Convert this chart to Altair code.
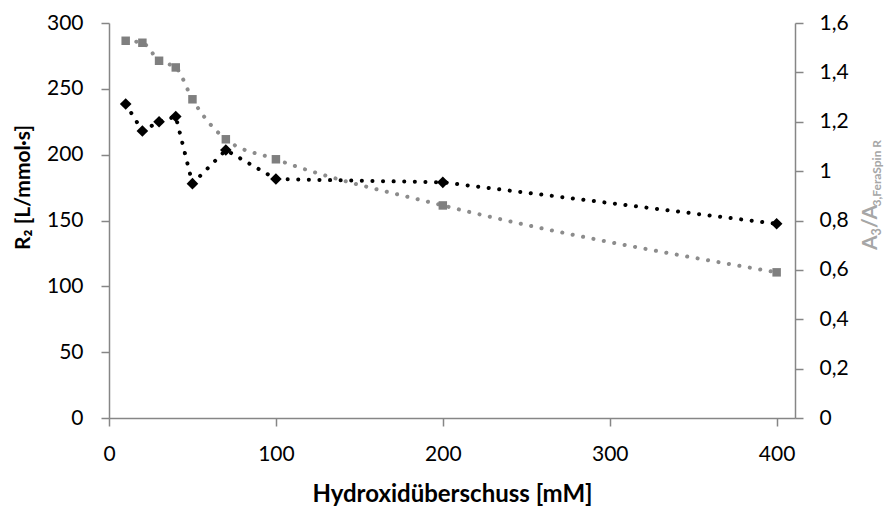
import altair as alt
import pandas as pd

# ---- data ----
hydroxid_mm = [10, 20, 30, 40, 50, 70, 100, 200, 400]
r2_values = [238.5, 218.0, 225.0, 229.0, 178.0, 203.5, 181.5, 179.0, 147.5]
ratio_values = [1.528, 1.520, 1.447, 1.420, 1.291, 1.129, 1.048, 0.861, 0.590]

x_ticks = [0, 100, 200, 300, 400]
r2_ticks = [0, 50, 100, 150, 200, 250, 300]
ratio_ticks = [0, 0.2, 0.4, 0.6, 0.8, 1, 1.2, 1.4, 1.6]

df = pd.DataFrame({"x": hydroxid_mm, "r2": r2_values, "ratio": ratio_values})
one = pd.DataFrame({"k": [0]})

FONT = "Lato"
AX_GREY = "#868686"
W, H = 686, 395

common_axis = dict(
    grid=False, domainColor=AX_GREY, tickColor=AX_GREY, domainWidth=1.5,
    tickWidth=1.5, tickSize=8, labelFontSize=21, labelColor="#000000",
    labelFont=FONT,
)

xenc = alt.X(
    "x:Q",
    scale=alt.Scale(domain=[0, 411], nice=False, zero=False),
    axis=alt.Axis(
        values=x_ticks, title="Hydroxidüberschuss [mM]", labelPadding=17,
        titleFontSize=24, titleFontWeight="bold", titleFont=FONT,
        titleColor="#000000", titleBaseline="alphabetic", titleY=83,
        labelFlush=False, **common_axis,
    ),
)

y_left = alt.Y(
    "r2:Q",
    scale=alt.Scale(domain=[0, 300], nice=False, zero=True),
    axis=alt.Axis(
        orient="left", values=r2_ticks, title="R₂ [L/mmol·s]", labelPadding=18,
        titleFontSize=21, titleFontWeight="bold", titleFont=FONT,
        titleColor="#000000", titleAngle=270, titleBaseline="alphabetic",
        titleAlign="center", titleX=-80, titleY=164, **common_axis,
    ),
)

y_right = alt.Y(
    "ratio:Q",
    scale=alt.Scale(domain=[0, 1.6], nice=False, zero=True),
    axis=alt.Axis(
        orient="right", values=ratio_ticks, title=None, labelPadding=16,
        labelExpr="replace(format(datum.value, '~g'), '.', ',')",
        **common_axis,
    ),
)

base = alt.Chart(df)

grey_line = base.mark_line(
    color="#8c8c8c", strokeWidth=4, strokeDash=[0.1, 10.5], strokeCap="round",
    interpolate="monotone",
).encode(x=xenc, y=y_right)
grey_pts = base.mark_point(
    shape="square", filled=True, color="#7f7f7f", size=72, opacity=1,
).encode(x=xenc, y=y_right)

black_line = base.mark_line(
    color="#000000", strokeWidth=4, strokeDash=[0.1, 10.5], strokeCap="round",
).encode(x=xenc, y=y_left)
black_pts = base.mark_point(
    shape="diamond", filled=True, color="#000000", size=135, opacity=1,
).encode(x=xenc, y=y_left)

grey_layer = alt.layer(grey_line, grey_pts)
black_layer = alt.layer(black_line, black_pts)

# right axis title: A3/A3,FeraSpin R (with subscripts), drawn as text pieces
TCOL = "#a6a6a6"
def piece(txt, size, xpx, ypx):
    return alt.Chart(one).mark_text(
        text=txt, angle=270, align="left", baseline="alphabetic",
        fontSize=size, fontWeight="bold", font=FONT, color=TCOL,
    ).encode(x=alt.value(xpx), y=alt.value(ypx))

ox, oy = 109, 23
t1 = piece("A", 21, 877 - ox, 250 - oy)
t2 = piece("3", 12.5, 881 - ox, 235.5 - oy)
t3 = piece("/A", 21, 877 - ox, 228 - oy)
t4 = piece("3,FeraSpin R", 12, 881 - ox, 206.5 - oy)

chart = (
    alt.layer(grey_layer, black_layer, t1, t2, t3, t4)
    .resolve_scale(y="independent")
    .properties(
        width=W, height=H,
        autosize=alt.AutoSizeParams(type="none"),
        padding={"left": ox, "top": oy, "right": 892 - ox - W, "bottom": 507 - oy - H},
    )
    .configure(font=FONT)
    .configure_view(stroke=None)
)

chart.save("out.html", embed_options={"renderer": "svg", "actions": False})
